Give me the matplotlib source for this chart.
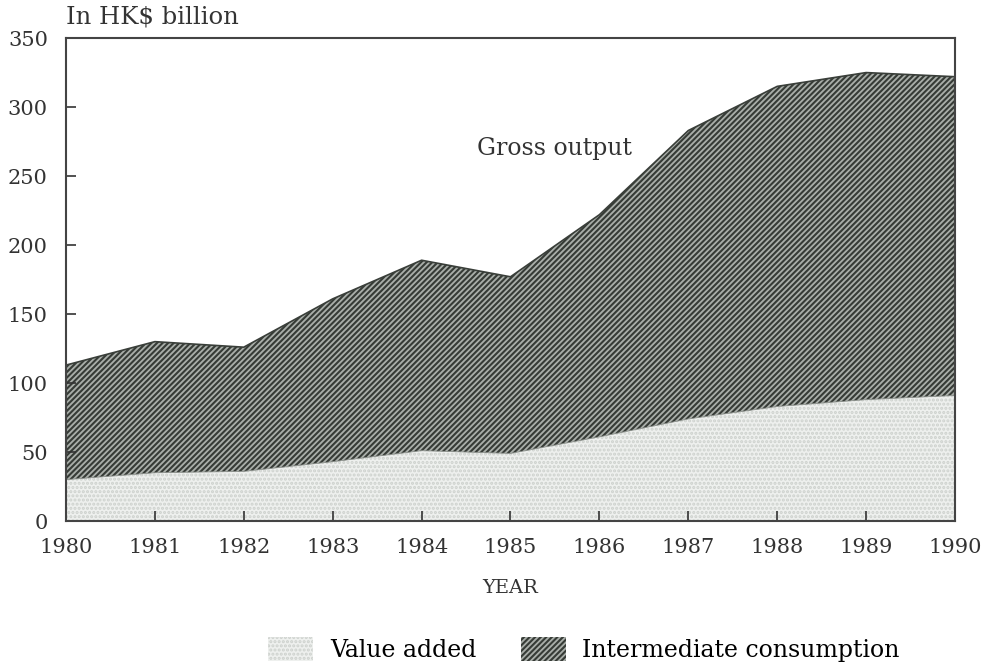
import matplotlib.pyplot as plt
import matplotlib as mpl

years = [1980, 1981, 1982, 1983, 1984, 1985, 1986, 1987, 1988, 1989, 1990]
value_added = [30, 35, 36, 43, 51, 49, 61, 74, 83, 88, 91]
gross_output = [113, 130, 126, 161, 189, 177, 222, 283, 315, 325, 322]
intermediate = [g - v for g, v in zip(gross_output, value_added)]

mpl.rcParams['font.family'] = 'DejaVu Serif'
mpl.rcParams['hatch.linewidth'] = 1.5

fig = plt.figure(figsize=(9.95, 6.68), dpi=100)
ax = fig.add_axes([0.0663, 0.22, 0.8935, 0.723])

# stacked areas
va = ax.fill_between(years, 0, value_added, facecolor='#eef0ee', edgecolor='#cdd1cd',
                     hatch='....', linewidth=0, label='Value added')
ic = ax.fill_between(years, value_added, gross_output, facecolor='#a9aea9', edgecolor='#363b36',
                     hatch='//////', linewidth=0, label='Intermediate consumption')
ax.plot(years, gross_output, color='#3a3f3a', linewidth=1.2)
ax.plot(years, value_added, color='#8a8f8a', linewidth=0.6)

ax.set_xlim(1980, 1990)
ax.set_ylim(0, 350)
ax.set_xticks(years)
ax.set_yticks(range(0, 351, 50))
ax.tick_params(direction='in', length=7, width=1.2, labelsize=15, colors='#333333')
ax.tick_params(axis='x', pad=12)
ax.tick_params(axis='y', pad=13)
for s in ax.spines.values():
    s.set_color('#444444')
    s.set_linewidth(1.5)

ax.set_xlabel('YEAR', fontsize=14, color='#333333', labelpad=16)
fig.text(0.0663, 0.957, 'In HK$ billion', fontsize=17.5, color='#333333', ha='left', va='bottom')
ax.text(1985.5, 270, 'Gross output', fontsize=17, color='#333333', ha='center', va='center')

fig.legend(handles=[va, ic], loc='center', bbox_to_anchor=(0.587, 0.028), ncol=2, frameon=False,
           fontsize=17, handlelength=1.9, handleheight=1.2, columnspacing=1.9, handletextpad=0.7)

plt.savefig('out.png', dpi=100)
